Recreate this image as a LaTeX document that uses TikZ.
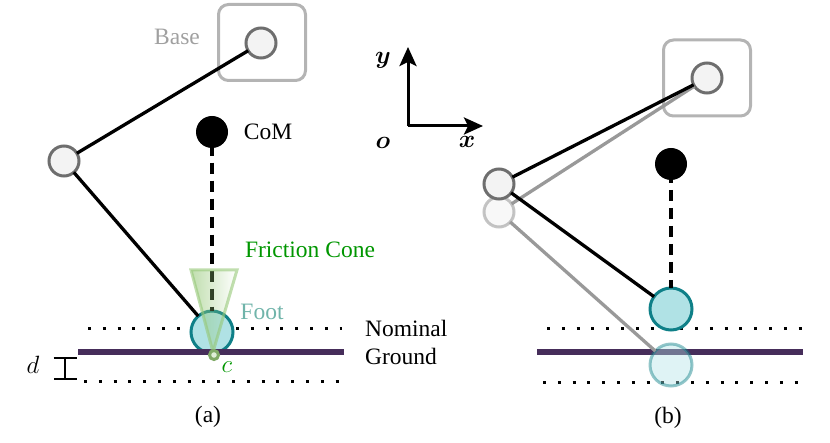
\RequirePackage{fix-cm}
\documentclass[tikz,border=0pt]{standalone}
\usepackage{fontspec}
\setmainfont{Liberation Serif}
\usetikzlibrary{arrows.meta,fadings}
\definecolor{footfill}{RGB}{176,226,229}
\definecolor{footline}{RGB}{15,128,136}
\definecolor{footlabel}{RGB}{112,180,170}
\definecolor{groundline}{RGB}{70,45,90}
\definecolor{coneline}{RGB}{150,200,120}
\definecolor{conegreen}{RGB}{0,150,0}
\tikzset{
        label20/.style={font=\fontsize{23.5}{28}\selectfont},
        math24/.style={font=\fontsize{25}{30}\selectfont},
        math27/.style={font=\fontsize{25}{30}\selectfont\boldmath},
        joint/.style={circle,draw={rgb,255:red,110;green,110;blue,110},fill={rgb,255:red,243;green,243;blue,243},line width=3pt,minimum size=30pt,inner sep=0pt,outer sep=0pt},
        ghostjoint/.style={joint,draw opacity=0.4,fill opacity=0.6},
        mass/.style={circle,fill=black,minimum size=32pt,inner sep=0pt,outer sep=0pt},
        foot/.style={circle,draw=footline,fill=footfill,line width=3pt,minimum size=42pt,inner sep=0pt,outer sep=0pt},
        ghostfoot/.style={foot,draw opacity=0.45,fill opacity=0.4},
        basebox/.style={draw={rgb,255:red,180;green,180;blue,180},line width=3pt,rounded corners=10pt,minimum width=87pt,minimum height=76pt,inner sep=0pt,outer sep=0pt},
        link/.style={line width=3.3pt,black},
        ghostlink/.style={line width=3.3pt,gray!80},
        comline/.style={line width=3.6pt,dash pattern=on 11.5pt off 6.5pt},
        level/.style={line width=3pt,dash pattern=on 3pt off 11.8pt},
        ground/.style={line width=5.5pt,groundline},
        axis/.style={line width=3pt,-{Stealth[length=19pt,width=17pt,inset=4pt]}},
}
\begin{document}
\begin{tikzpicture}[x=1pt,y=-1pt]
        \useasboundingbox (0,0) rectangle (830,443);
        \node[basebox] (basea) at (262,42.5) {};
        \node[joint] (hipa) at (261,43) {};
        \node[joint] (kneea) at (64,161) {};
        \node[mass] (coma) at (212,132) {};
        \draw [level] (88,329) -- (342,329);
        \draw [level] (84,382) -- (340,382);
        \node[foot] (foota) at (212,332) {};
        \draw [link] (hipa) -- (kneea);
        \draw [link] (kneea) -- (foota);
        \draw [comline,dash phase=3.3pt] (coma) -- (foota);
        \draw [ground] (78,352) -- (344,352);
        \fill [coneline,fill opacity=0.6,path fading=east] (191,270) -- (237,270) -- (213,352) -- cycle;
        \draw [coneline,line width=3pt,draw opacity=0.6] (191,270) -- (237,270) -- (213,352) -- cycle;
        \node[circle,draw=coneline!85!black,fill=coneline!30,line width=3pt,minimum size=9pt,inner sep=0pt] (contact) at (214,355) {};
        \node[label20,text={rgb,255:red,160;green,160;blue,160}] (baselabel) at (177,37) {Base};
        \node[label20] (comlabel) at (268,132) {CoM};
        \node[label20,text=conegreen] (conelabel) at (310,250) {Friction Cone};
        \node[label20,text=footlabel] (footlabel) at (262,312) {Foot};
        \node[label20,anchor=west,inner sep=0pt] (nominal) at (365,328) {Nominal};
        \node[label20,anchor=west,inner sep=0pt] (groundlabel) at (365,356) {Ground};
        \node[math24] (dlabel) at (33,365) {$d$};
        \node[math24,text=conegreen] (clabel) at (227,367) {$c$};
        \coordinate (dtop) at (65,357);
        \coordinate (dbot) at (65,380);
        \draw [line width=2pt,{Bar[width=23pt]}-{Bar[width=23pt]}] (dtop) -- (dbot);
        \node[label20] (capa) at (208,417) {(a)};
        \coordinate (origin) at (408,126);
        \coordinate (xtip) at (483,126);
        \coordinate (ytip) at (408,47);
        \draw [axis] (origin) -- (xtip);
        \draw [axis] (origin) -- (ytip);
        \node[math27] (xlabel) at (467,142) {$x$};
        \node[math27] (ylabel) at (383,60) {$y$};
        \node[math27] (olabel) at (383,143) {$o$};
        \node[basebox] (baseb) at (707,78) {};
        \draw [level] (547,329) -- (802,329);
        \draw [level] (543,383) -- (798,383);
        \node[joint] (hipb) at (707,78) {};
        \node[ghostjoint] (kneeg) at (499,212) {};
        \draw [ground] (537,352) -- (803,352);
        \node[ghostfoot] (footg) at (671,365) {};
        \draw [ghostlink] (hipb) -- (kneeg);
        \draw [ghostlink] (kneeg) -- (footg);
        \node[joint] (kneeb) at (499,184) {};
        \node[mass] (comb) at (671,164) {};
        \node[foot] (footb) at (671,309) {};
        \draw [link] (hipb) -- (kneeb);
        \draw [link] (kneeb) -- (footb);
        \draw [comline,dash phase=8pt] (comb) -- (footb);
        \node[label20] (capb) at (668,418) {(b)};
\end{tikzpicture}
\end{document}
